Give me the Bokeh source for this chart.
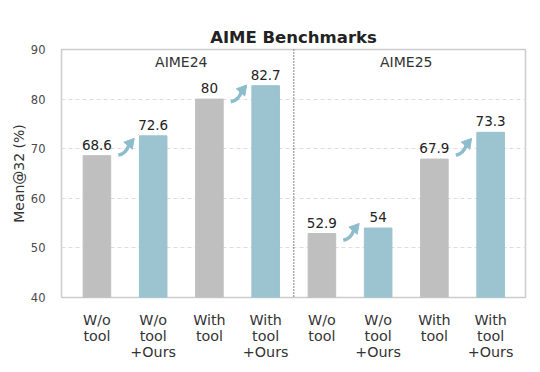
import numpy as np
from bokeh.plotting import figure
from bokeh.models import Range1d, FixedTicker, Span, ColumnDataSource
from bokeh.core.properties import value
from bokeh.embed import file_html
from bokeh.resources import INLINE

# ---- data ----
categories = ["W/o\ntool", "W/o\ntool\n+Ours", "With\ntool", "With\ntool\n+Ours",
              "W/o\ntool", "W/o\ntool\n+Ours", "With\ntool", "With\ntool\n+Ours"]
scores = [68.6, 72.6, 80.0, 82.7, 52.9, 54.0, 67.9, 73.3]
value_labels = ["68.6", "72.6", "80", "82.7", "52.9", "54", "67.9", "73.3"]
groups = ["AIME24", "AIME25"]
y_ticks = [40, 50, 60, 70, 80, 90]

GRAY = "#bfbfbf"
BLUE = "#9bc3d0"
ARROW = "#8dbdcc"
FONT = "DejaVu Sans"

xs = list(range(len(scores)))
colors = [GRAY if i % 2 == 0 else BLUE for i in xs]

p = figure(frame_width=464, frame_height=248, output_backend="svg", toolbar_location=None,
           x_range=Range1d(-0.63, 7.62), y_range=Range1d(40, 90),
           min_border_left=61, min_border_right=3, min_border_top=49, min_border_bottom=64)

p.title.text = "AIME Benchmarks"
p.title.align = "center"
p.title.text_font = FONT
p.title.text_font_size = "16.5px"
p.title.text_font_style = "bold"
p.title.text_color = "#222222"
p.title.standoff = 6

src = ColumnDataSource(dict(x=xs, top=scores, color=colors, lab=value_labels,
                            ly=[s + 1.2 for s in scores]))
p.vbar(x="x", top="top", bottom=40, width=0.49, color="color", source=src)

p.text(x="x", y="ly", text="lab", source=src,
       text_font=value(FONT), text_font_size="13.5px", text_color="#222222",
       text_align="center", text_baseline="bottom")

# improvement arrows between each baseline / +Ours pair
for i in range(0, len(scores), 2):
    v1, v2 = scores[i], scores[i + 1]
    mid = (v1 + v2) / 2
    tx, ty = i + 0.38, mid - 1.9
    hx, hy = i + 0.57, mid + 0.2
    p.quadratic(x0=[tx], y0=[ty], x1=[hx], y1=[hy],
                cx=[i + 0.52], cy=[mid - 1.6], line_color=ARROW, line_width=3.5)
    p.scatter(x=[i + 0.59], y=[mid + 0.5], marker="triangle", size=11,
              angle=-0.7, color=ARROW)

# group labels and divider
p.text(x=[1.5, 5.5], y=[87.4, 87.4], text=groups,
       text_font=value(FONT), text_font_size="14px", text_color="#333333",
       text_align="center", text_baseline="middle")
p.add_layout(Span(location=3.5, dimension="height", line_color="#333333",
                  line_dash="1 2", line_width=1.2))

# axes
p.xaxis.ticker = FixedTicker(ticks=xs)
p.xaxis.major_label_overrides = {i: categories[i] for i in xs}
p.xaxis.major_label_text_font = FONT
p.xaxis.major_label_text_font_size = "14.3px"
p.xaxis.major_label_text_color = "#333333"
p.xaxis.major_label_text_line_height = 1.0
p.xaxis.major_label_standoff = 8
p.yaxis.ticker = FixedTicker(ticks=y_ticks)
p.yaxis.major_label_text_font = FONT
p.yaxis.major_label_text_font_size = "11.5px"
p.yaxis.major_label_text_color = "#4a4a4a"
p.yaxis.major_label_standoff = 10
p.yaxis.axis_label = "Mean@32 (%)"
p.yaxis.axis_label_text_font = FONT
p.yaxis.axis_label_text_font_size = "14px"
p.yaxis.axis_label_text_font_style = "normal"
p.yaxis.axis_label_text_color = "#333333"
p.yaxis.axis_label_standoff = 1
for ax in (p.xaxis, p.yaxis):
    ax.axis_line_color = None
    ax.major_tick_line_color = None
    ax.minor_tick_line_color = None

p.xgrid.grid_line_color = None
p.ygrid.grid_line_color = "#dddddd"
p.ygrid.grid_line_dash = "4 3"
p.outline_line_color = "#cccccc"
p.outline_line_width = 1.5

open("out.html", "w").write(file_html(p, INLINE))
